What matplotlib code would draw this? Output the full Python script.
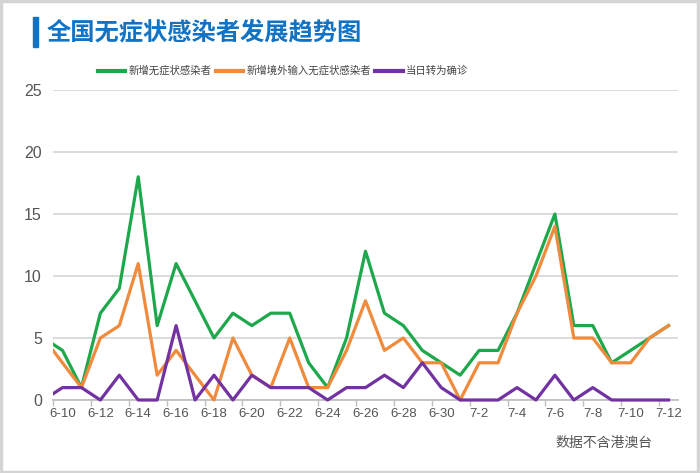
import numpy as np
import matplotlib
matplotlib.use('Agg')
import matplotlib.pyplot as plt
from matplotlib.patches import Rectangle

plt.rcParams['font.family'] = ['Noto Sans CJK SC', 'DejaVu Sans']

# dates (6-9 is only partly visible at the left edge)
dates = ['6-9', '6-10', '6-11', '6-12', '6-13', '6-14', '6-15', '6-16', '6-17',
         '6-18', '6-19', '6-20', '6-21', '6-22', '6-23', '6-24', '6-25', '6-26',
         '6-27', '6-28', '6-29', '6-30', '7-1', '7-2', '7-3', '7-4', '7-5', '7-6',
         '7-7', '7-8', '7-9', '7-10', '7-11', '7-12']

new_asym = [5, 4, 1, 7, 9, 18, 6, 11, 8, 5, 7, 6, 7, 7, 3, 1, 5, 12,
            7, 6, 4, 3, 2, 4, 4, 7, 11, 15, 6, 6, 3, 4, 5, 6]
imported_asym = [5, 3, 1, 5, 6, 11, 2, 4, 2, 0, 5, 2, 1, 5, 1, 1, 4, 8,
                 4, 5, 3, 3, 0, 3, 3, 7, 10, 14, 5, 5, 3, 3, 5, 6]
to_confirmed = [0, 1, 1, 0, 2, 0, 0, 6, 0, 2, 0, 2, 1, 1, 1, 0, 1, 1,
                2, 1, 3, 1, 0, 0, 0, 1, 0, 2, 0, 1, 0, 0, 0, 0]

series_names = ['新增无症状感染者', '新增境外输入无症状感染者', '当日转为确诊']
colors = ['#1ea84c', '#f08a3c', '#7232a2']

fig = plt.figure(figsize=(7, 4.73), dpi=100)
ax = fig.add_axes([53 / 700, 73 / 473, 625 / 700, 310 / 473])

x = np.arange(len(dates))
clip = Rectangle((0, -0.03), 1, 1.1, transform=ax.transAxes, visible=False)
ax.add_patch(clip)
for vals, name, c in zip([new_asym, imported_asym, to_confirmed], series_names, colors):
    ln, = ax.plot(x, vals, color=c, lw=2.3, label=name, zorder=3)
    ln.set_clip_path(clip)

ax.set_xlim(0.5, len(dates) - 0.5)
ax.set_ylim(0, 25)
ax.set_yticks([0, 5, 10, 15, 20, 25])
ax.grid(axis='y', color='#d9d9d9', lw=1.3)
ax.set_axisbelow(True)

label_pos = x[1::2]
ax.set_xticks(label_pos)
ax.set_xticklabels([dates[i] for i in label_pos], family=['Liberation Sans', 'DejaVu Sans'])
ax.set_xticks(label_pos - 0.5, minor=True)
ax.tick_params(axis='x', which='major', length=0, pad=6, labelsize=9.5, labelcolor='#555555')
ax.tick_params(axis='x', which='minor', length=4, color='#c0c0c0', width=1)
ax.tick_params(axis='y', length=0, pad=8, labelsize=11.5, labelcolor='#555555')
for lab in ax.get_yticklabels():
    lab.set_family(['Liberation Sans', 'DejaVu Sans'])

for s in ['top', 'right', 'left']:
    ax.spines[s].set_visible(False)
ax.spines['bottom'].set_color('#c0c0c0')
ax.spines['bottom'].set_linewidth(1.3)

fig.legend(loc='center', bbox_to_anchor=(283 / 700, 1 - 71 / 473), ncol=3,
           frameon=False, fontsize=7.5, handlelength=2.6, handletextpad=0.3,
           columnspacing=0.45, labelcolor='#444444')
for ln in fig.legends[0].get_lines():
    ln.set_linewidth(3)

# title with blue bar
fig.patches.append(Rectangle((33 / 700, 1 - 47 / 473), 5 / 700, 30 / 473,
                             transform=fig.transFigure, color='#1273c4'))
fig.text(47 / 700, 1 - 32 / 473, '全国无症状感染者发展趋势图', fontsize=17.5,
         weight='bold', color='#1273c4', va='center', ha='left')

fig.text(653 / 700, 1 - 443 / 473, '数据不含港澳台', fontsize=10,
         color='#555555', ha='right', va='center')

# light frame around the picture
fig.patches.append(Rectangle((0.002, 0.003), 0.995, 0.994, transform=fig.transFigure,
                             fill=False, edgecolor='#d4d4d4', lw=2.5))

fig.savefig('out.png', dpi=100)
